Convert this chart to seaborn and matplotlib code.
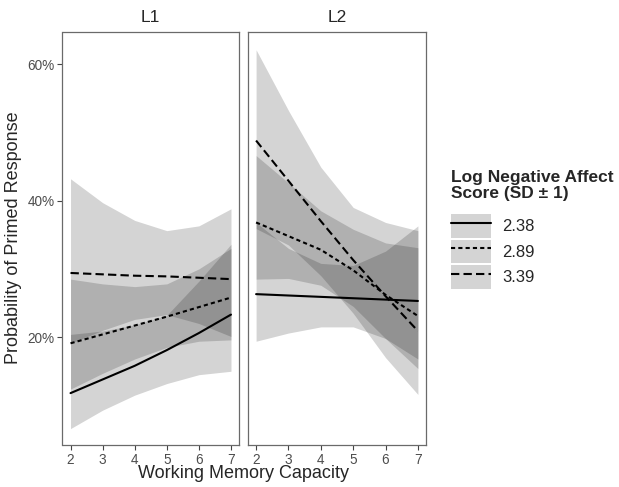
import numpy as np
import pandas as pd
import matplotlib
matplotlib.use("Agg")
import matplotlib.pyplot as plt
import seaborn as sns
from matplotlib.lines import Line2D
from matplotlib.patches import Patch
from matplotlib.ticker import PercentFormatter

# working memory capacity grid (x)
wmc = [2, 3, 4, 5, 6, 7]
groups = ["2.38", "2.89", "3.39"]
panels = ["L1", "L2"]

# L1: predicted probability (%) with lower / upper band
l1_fit = {
    "2.38": [11.8, 13.8, 15.8, 18.1, 20.6, 23.3],
    "2.89": [19.1, 20.4, 21.7, 23.0, 24.4, 25.8],
    "3.39": [29.4, 29.2, 29.0, 28.9, 28.7, 28.5],
}
l1_low = {
    "2.38": [6.6, 9.3, 11.5, 13.2, 14.5, 15.0],
    "2.89": [12.4, 14.7, 16.8, 18.5, 19.4, 19.6],
    "3.39": [19.1, 21.0, 22.6, 23.3, 22.0, 20.1],
}
l1_up = {
    "2.38": [20.4, 20.9, 21.8, 23.2, 28.2, 33.6],
    "2.89": [28.5, 27.8, 27.4, 27.8, 30.0, 33.0],
    "3.39": [43.2, 39.7, 37.1, 35.6, 36.3, 38.8],
}

# L2
l2_fit = {
    "2.38": [26.3, 26.1, 25.9, 25.7, 25.5, 25.3],
    "2.89": [36.8, 34.8, 32.8, 29.8, 26.2, 23.1],
    "3.39": [48.8, 42.9, 37.0, 31.3, 26.0, 20.9],
}
l2_low = {
    "2.38": [19.4, 20.6, 21.5, 21.5, 19.8, 16.8],
    "2.89": [28.5, 28.6, 27.6, 24.5, 19.8, 15.4],
    "3.39": [35.9, 33.5, 29.0, 23.5, 17.0, 11.6],
}
l2_up = {
    "2.38": [36.8, 33.0, 30.8, 30.5, 32.6, 36.3],
    "2.89": [46.6, 42.6, 38.5, 35.8, 33.8, 33.1],
    "3.39": [62.1, 53.2, 44.9, 39.0, 36.8, 35.6],
}

rows = []
for panel, fit, low, up in [("L1", l1_fit, l1_low, l1_up), ("L2", l2_fit, l2_low, l2_up)]:
    for g in groups:
        for i, x in enumerate(wmc):
            rows.append({"panel": panel, "group": g, "wmc": x,
                         "fit": fit[g][i], "low": low[g][i], "up": up[g][i]})
df = pd.DataFrame(rows)

sns.set_style("white")
plt.rcParams["font.family"] = ["Liberation Sans", "DejaVu Sans"]

dashes = {"2.38": "", "2.89": (2, 1.5), "3.39": (4, 2)}
ribbon = (0, 0, 0, 0.17)

fig = plt.figure(figsize=(6.19, 4.87), dpi=100)
ax1 = fig.add_axes([62.5 / 619, 1 - 445 / 487, 176.5 / 619, 413 / 487])
ax2 = fig.add_axes([248 / 619, 1 - 445 / 487, 178 / 619, 413 / 487])

for ax, panel in zip([ax1, ax2], panels):
    d = df[df["panel"] == panel]
    for g in groups:
        dg = d[d["group"] == g]
        ax.fill_between(dg["wmc"], dg["low"], dg["up"], color=ribbon, linewidth=0)
    sns.lineplot(data=d, x="wmc", y="fit", style="group", style_order=groups,
                 dashes=dashes, color="black", linewidth=1.5, legend=False, ax=ax)
    ax.set_xlim(1.75, 7.25)
    ax.set_ylim(4.2, 64.7)
    ax.set_xticks(wmc)
    ax.set_yticks([20, 40, 60])
    ax.yaxis.set_major_formatter(PercentFormatter(100, decimals=0))
    ax.set_xlabel("")
    ax.set_ylabel("")
    ax.set_title(panel, fontsize=12.5, pad=7)
    for s in ax.spines.values():
        s.set_visible(True)
        s.set_color("#6a6a6a")
        s.set_linewidth(0.9)
    ax.tick_params(direction="out", length=3.5, width=0.8, color="#444444",
                   labelcolor="#4d4d4d", labelsize=9.8, pad=2)
    ax.tick_params(axis="x", bottom=True)
    ax.tick_params(axis="y", left=True)

ax2.tick_params(axis="y", left=False, labelleft=False)

fig.text(14 / 619, 1 - 238 / 487, "Probability of Primed Response", rotation=90,
         ha="center", va="center", fontsize=13)
fig.text(244 / 619, 1 - 474 / 487, "Working Memory Capacity", ha="center",
         va="center", fontsize=13)

fig.text(451 / 619, 1 - 170 / 487, "Log Negative Affect\nScore (SD \u00b1 1)",
         ha="left", va="top", fontsize=12.5, fontweight="bold", linespacing=1.05)

handles = []
for g in groups:
    ls = "-" if dashes[g] == "" else (0, dashes[g])
    handles.append((Patch(facecolor="#d4d4d4", edgecolor="none"),
                    Line2D([], [], color="black", linewidth=1.5, linestyle=ls)))
fig.legend(handles, groups, loc="upper left", bbox_to_anchor=(451 / 619, 1 - 214 / 487),
           frameon=False, fontsize=12, handlelength=2.4, handleheight=1.8,
           labelspacing=0.12, handletextpad=0.65, borderpad=0, borderaxespad=0)

fig.savefig("out.png", dpi=100)
